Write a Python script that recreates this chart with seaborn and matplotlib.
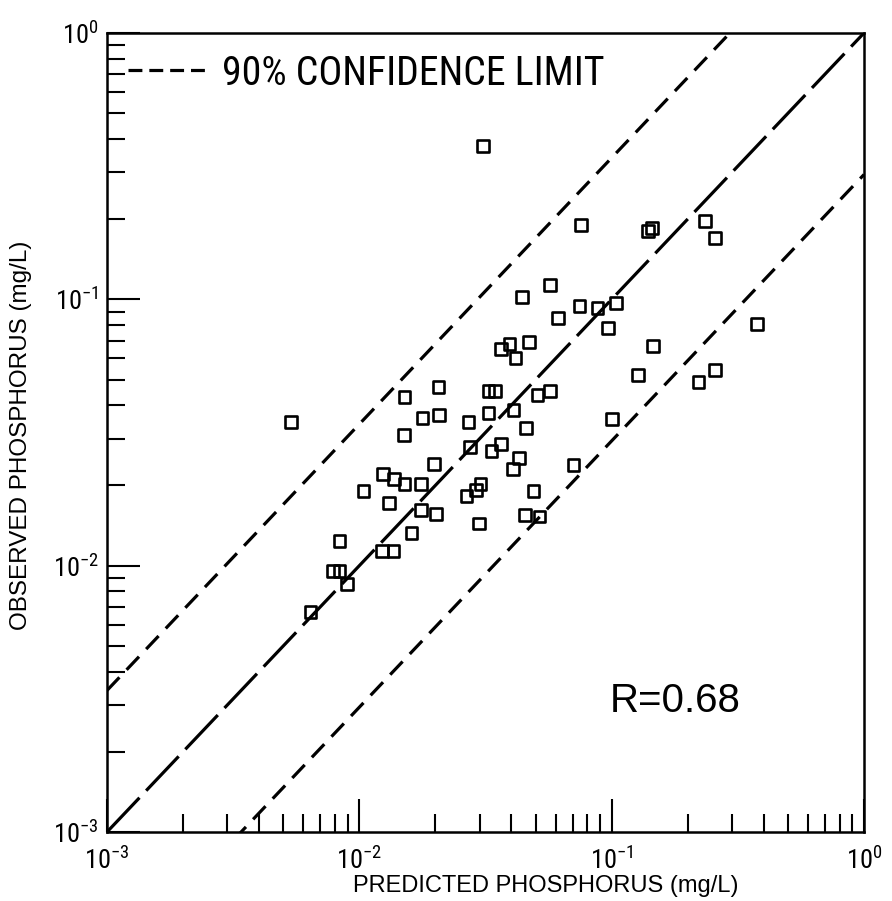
import numpy as np
import pandas as pd
import matplotlib
matplotlib.use("Agg")
import matplotlib.pyplot as plt
from matplotlib.lines import Line2D
from matplotlib.ticker import LogLocator, NullFormatter
from matplotlib import font_manager as fm
import seaborn as sns

# ---- data ----
predicted = [0.0308, 0.0754, 0.139, 0.144, 0.234, 0.256, 0.0568, 0.0440, 0.0611, 0.0746,
             0.0879, 0.104, 0.0964, 0.376, 0.146, 0.0469, 0.0394, 0.0365, 0.0416, 0.127,
             0.221, 0.256, 0.0206, 0.0325, 0.0344, 0.0151, 0.0508, 0.0568, 0.00537, 0.0178,
             0.0207, 0.0271, 0.0325, 0.0408, 0.0456, 0.100, 0.0150, 0.0274, 0.0334, 0.0365,
             0.0428, 0.0405, 0.0197, 0.0706, 0.01245, 0.01377, 0.0151, 0.0176, 0.01038, 0.01315,
             0.0176, 0.0202, 0.0266, 0.0291, 0.0302, 0.0490, 0.0297, 0.0452, 0.0518, 0.0161,
             0.00834, 0.01233, 0.01365, 0.00789, 0.00834, 0.00895, 0.00640]
observed = [0.377, 0.190, 0.181, 0.185, 0.197, 0.170, 0.113, 0.102, 0.0851, 0.0944,
            0.0929, 0.0970, 0.0781, 0.0809, 0.0668, 0.0692, 0.0681, 0.0652, 0.0603, 0.0520,
            0.0490, 0.0543, 0.0469, 0.0453, 0.0453, 0.0431, 0.0438, 0.0453, 0.0347, 0.0359,
            0.0368, 0.0347, 0.0374, 0.0385, 0.0329, 0.0356, 0.0310, 0.0279, 0.0270, 0.0286,
            0.0254, 0.0231, 0.0241, 0.0239, 0.0221, 0.0212, 0.0203, 0.0203, 0.0191, 0.0172,
            0.0162, 0.0156, 0.0183, 0.0192, 0.0203, 0.0191, 0.0144, 0.0155, 0.0153, 0.0133,
            0.0124, 0.01135, 0.01135, 0.00955, 0.00955, 0.00853, 0.00670]

line_x = [1e-3, 1.0]          # extent of the 1:1 and confidence lines
conf_factor = 3.4             # 90% confidence band (multiplicative)
r_text = "R=0.68"
legend_text = "90% CONFIDENCE LIMIT"
x_label = "PREDICTED PHOSPHORUS (mg/L)"
y_label = "OBSERVED PHOSPHORUS (mg/L)"

# ---- style ----
sns.set_style("ticks")

# prefer a narrow sans face if one is present
avail = {f.name for f in fm.fontManager.ttflist}
cands = ["Liberation Sans Narrow", "DejaVu Sans Condensed", "Roboto Condensed",
         "Open Sans Condensed", "Liberation Sans", "DejaVu Sans"]
fam = [c for c in cands if c in avail] or ["DejaVu Sans"]
plain = ["Liberation Sans", "DejaVu Sans"] if "Liberation Sans" in avail else ["DejaVu Sans"]
plt.rcParams["font.family"] = fam + ["DejaVu Sans"]
plt.rcParams["mathtext.fontset"] = "custom"
plt.rcParams["mathtext.rm"] = fam[0]
plt.rcParams["mathtext.default"] = "regular"
plt.rcParams["lines.scale_dashes"] = False
for k in ["text.color", "axes.labelcolor", "xtick.color", "ytick.color", "axes.edgecolor"]:
    plt.rcParams[k] = "black"

fig = plt.figure(figsize=(8.92, 9.01), dpi=100)
ax = fig.add_axes([107 / 892, 1 - 832 / 901, 757 / 892, 799 / 901])

df = pd.DataFrame({"pred": predicted, "obs": observed})
lines = pd.DataFrame({"x": line_x,
                      "y": line_x,
                      "upper": [v * conf_factor for v in line_x],
                      "lower": [v / conf_factor for v in line_x]})

sns.lineplot(data=lines, x="x", y="y", ax=ax, color="black", lw=2.3, estimator=None)
ax.lines[-1].set_dashes([34, 7])
sns.lineplot(data=lines, x="x", y="upper", ax=ax, color="black", lw=2.3, estimator=None)
ax.lines[-1].set_dashes([13, 7.5])
sns.lineplot(data=lines, x="x", y="lower", ax=ax, color="black", lw=2.3, estimator=None)
ax.lines[-1].set_dashes([13, 7.5])

sns.scatterplot(data=df, x="pred", y="obs", ax=ax, marker="s", s=72,
                fc="none", ec="black", linewidth=1.9, zorder=3)

ax.set_xscale("log")
ax.set_yscale("log")
ax.set_xlim(1e-3, 1)
ax.set_ylim(1e-3, 1)

ax.xaxis.set_major_locator(LogLocator(base=10, numticks=10))
ax.yaxis.set_major_locator(LogLocator(base=10, numticks=10))
ax.xaxis.set_minor_locator(LogLocator(base=10, subs=np.arange(2, 10), numticks=30))
ax.yaxis.set_minor_locator(LogLocator(base=10, subs=np.arange(2, 10), numticks=30))
ax.xaxis.set_minor_formatter(NullFormatter())
ax.yaxis.set_minor_formatter(NullFormatter())

ax.tick_params(which="major", direction="in", length=24, width=1.5, top=False, right=False,
               labelsize=19, colors="black")
ax.tick_params(which="minor", direction="in", length=13, width=1.5, top=False, right=False)
ax.tick_params(axis="x", which="major", pad=11)
ax.tick_params(axis="y", which="major", pad=6)
for sp in ax.spines.values():
    sp.set_visible(True)
    sp.set_linewidth(1.8)
    sp.set_color("black")

ax.set_xlabel(x_label, fontsize=17, family=plain)
ax.set_ylabel(y_label, fontsize=17, family=plain)
ax.xaxis.set_label_coords(0.58, -0.054)
ax.yaxis.set_label_coords(-0.099, 0.497)

handle = Line2D([], [], color="black", lw=2.3, dashes=[10, 5])
leg = ax.legend([handle], [legend_text], loc="upper left", bbox_to_anchor=(0.0, 1.0),
                frameon=False, fontsize=30, handlelength=2.0, handletextpad=0.25,
                borderaxespad=0.2, borderpad=0.3)

rt = ax.text(0.664, 0.164, r_text, transform=ax.transAxes, fontsize=27,
             ha="left", va="center", family=plain)

# fit text sizes to the widths seen in the reference
fig.canvas.draw()
rend = fig.canvas.get_renderer()


def fit(t, target, horiz=True, cap=None):
    bb = t.get_window_extent(rend)
    cur = bb.width if horiz else bb.height
    size = t.get_fontsize() * target / cur
    if cap is not None:
        size = min(size, cap)
    t.set_fontsize(size)


fit(leg.get_texts()[0], 383, cap=30)
fit(rt, 135, cap=29)
fit(ax.xaxis.label, 385, cap=17.5)
fit(ax.yaxis.label, 390, horiz=False, cap=17.5)

fig.canvas.draw()
xl = ax.get_xticklabels()
if xl:
    xl[0].set_horizontalalignment("left")

fig.savefig("out.png", dpi=100)
